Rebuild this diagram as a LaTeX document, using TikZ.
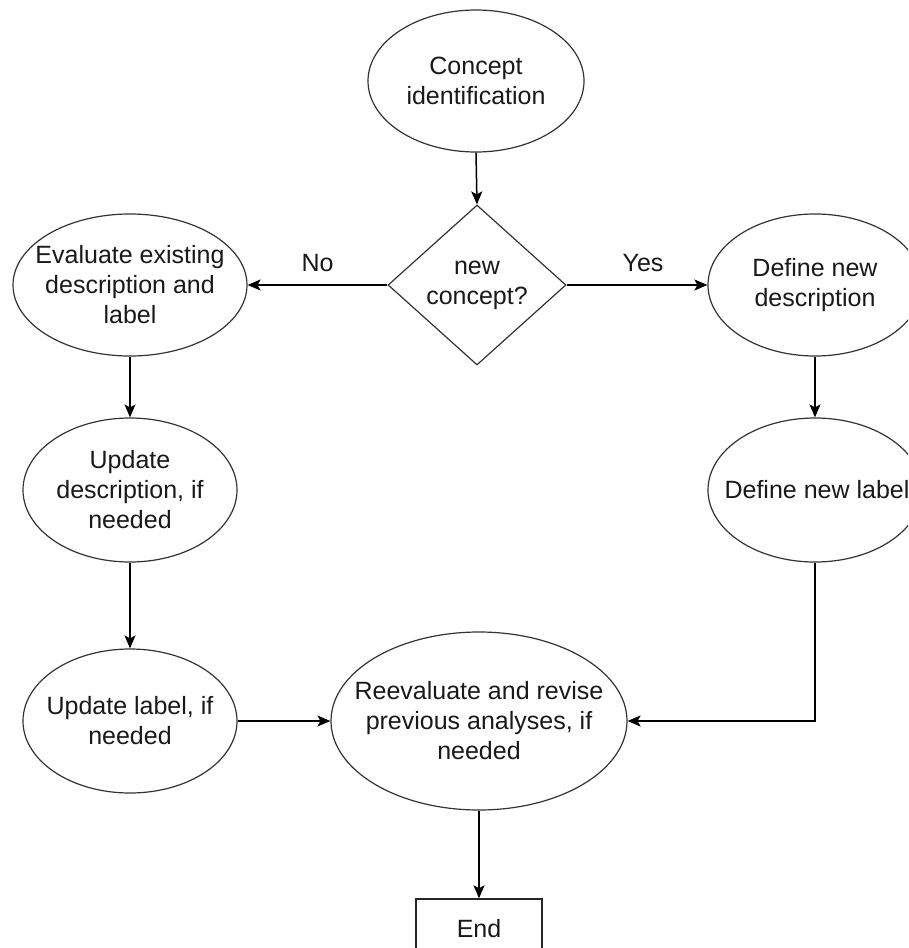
\documentclass[tikz,border=0pt]{standalone}
\usepackage{fontspec}
\setmainfont{Liberation Sans}
\usetikzlibrary{shapes.geometric,arrows.meta}
\begin{document}
\begin{tikzpicture}[x=1pt,y=-1pt,
  ell/.style={ellipse,draw=black!80,line width=1.2pt,inner sep=0pt},
  dia/.style={diamond,draw=black!80,line width=1.2pt,inner sep=0pt,minimum width=178pt,minimum height=160pt},
  boxnode/.style={rectangle,draw=black!85,line width=1.4pt,inner sep=0pt,minimum width=126pt,minimum height=60pt},
  txt/.style={align=center,font=\fontsize{25}{30}\selectfont,text=black!90,inner sep=0pt},
  conn/.style={draw=black,line width=1.5pt,-{Stealth[length=13pt,width=11pt,inset=3pt]}},
  elabel/.style={font=\fontsize{25}{30}\selectfont,text=black!90,inner sep=0pt}
  ]
\useasboundingbox (0,0) rectangle (908,948);
\clip (0,0) rectangle (908,948);
\fill[white] (0,0) rectangle (908,948);

% shapes
\node[ell,minimum width=216pt,minimum height=142pt] (ci) at (476,81) {};
\node[dia] (dm) at (477,285) {};
\node[ell,minimum width=234pt,minimum height=142pt] (ev) at (130,285) {};
\node[ell,minimum width=214pt,minimum height=142pt] (dd) at (815,285) {};
\node[ell,minimum width=214pt,minimum height=144pt] (ud) at (130,490) {};
\node[ell,minimum width=214pt,minimum height=144pt] (dl) at (815,490) {};
\node[ell,minimum width=214pt,minimum height=144pt] (ul) at (130,721) {};
\node[ell,minimum width=296pt,minimum height=178pt] (re) at (479,721) {};
\node[boxnode] (en) at (479,929) {};

% texts
\node[txt] (ci-t) at (ci.center) {Concept\\identification};
\node[txt] (dm-t) at (dm.center) {new\\concept?};
\node[txt] (ev-t) at (ev.center) {Evaluate existing\\description and\\label};
\node[txt] (dd-t) at (dd.center) {Define new\\description};
\node[txt] (ud-t) at (ud.center) {Update\\description, if\\needed};
\node[txt] (dl-t) at (817,490) {Define new label};
\node[txt] (ul-t) at (ul.center) {Update label, if\\needed};
\node[txt] (re-t) at (re.center) {Reevaluate and revise\\previous analyses, if\\needed};
\node[txt] (en-t) at (en.center) {End};

% connectors
\draw[conn] (ci.south) -- (dm.north);
\draw[conn] (dm.west) -- node[elabel,yshift=22pt] (no) {No} (ev.east);
\draw[conn] (dm.east) -- node[elabel,yshift=22pt,xshift=6pt] (yes) {Yes} (dd.west);
\draw[conn] (ev.south) -- (ud.north);
\draw[conn] (ud.south) -- (ul.north);
\draw[conn] (dd.south) -- (dl.north);
\draw[conn] (dl.south) |- (re.east);
\draw[conn] (ul.east) -- (re.west);
\draw[conn] (re.south) -- (en.north);
\end{tikzpicture}
\end{document}
